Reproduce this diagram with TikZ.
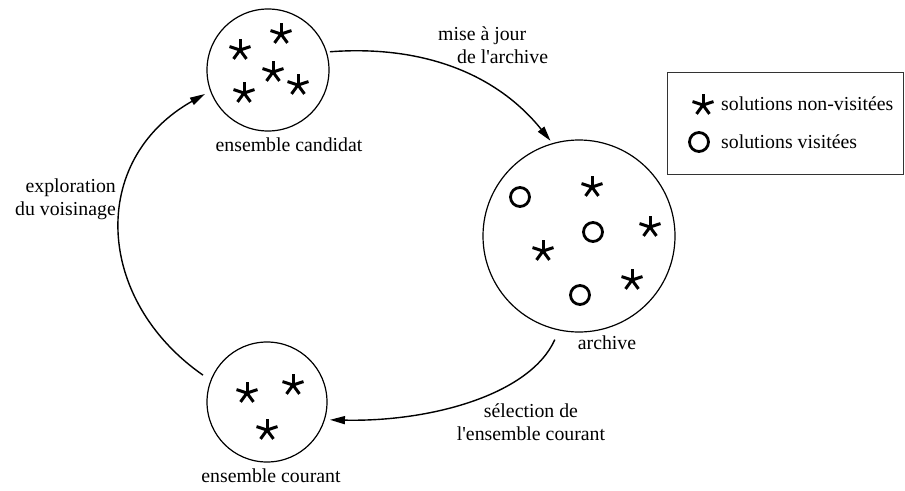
\documentclass[tikz,border=0pt]{standalone}
\usepackage{fontspec}
\setmainfont{Liberation Serif}
\usetikzlibrary{arrows.meta}
\begin{document}
\begin{tikzpicture}[x=1pt,y=-1pt,
  setc/.style={circle,draw,line width=1.2pt,inner sep=0pt},
  lbl/.style={font=\fontsize{19.8}{23}\selectfont, inner sep=0pt},
  conn/.style={line width=1.4pt,-{Triangle[length=15pt,width=8pt]}},
  ast/.pic={\foreach \a in {90,162,234,306,18}\draw[line width=3pt] (0,0) -- (\a:11pt);},
  vis/.style={circle,draw,line width=2.8pt,minimum size=19pt,inner sep=0pt}
]
\path[use as bounding box] (0,0) rectangle (905,490);

% sets
\node[setc,minimum size=122pt] (cand) at (268,70) {};
\node[setc,minimum size=192pt] (arch) at (579,236) {};
\node[setc,minimum size=120pt] (cour) at (267,402) {};

% candidate set contents
\pic at (240,50) {ast};
\pic at (281,34) {ast};
\pic at (273,72) {ast};
\pic at (298,85) {ast};
\pic at (244,93) {ast};

% archive contents
\node[vis] (v1) at (520,197) {};
\node[vis] (v2) at (593,232) {};
\node[vis] (v3) at (580,295) {};
\pic at (592,187) {ast};
\pic at (650,227) {ast};
\pic at (543,251) {ast};
\pic at (632,280) {ast};

% current set contents
\pic at (247,393) {ast};
\pic at (293,385) {ast};
\pic at (267,430) {ast};

% labels
\node[lbl] (lcand) at (289,145) {ensemble candidat};
\node[lbl] (lcour) at (271,476) {ensemble courant};
\node[lbl] (larch) at (607,343) {archive};
\node[lbl,align=right,anchor=east] (lexp) at (116,199) {exploration\\du voisinage};
\node[lbl,align=left,anchor=west] (lmaj) at (438,45) {mise à jour\\\hspace*{19pt}de l\textquotesingle archive};
\node[lbl,align=center] (lsel) at (531,422) {sélection de\\l\textquotesingle ensemble courant};

% connectors
\draw[conn,shorten <=3pt,shorten >=3pt] (cand.17) .. controls (420,45) and (495,72) .. (arch.106);
\draw[conn,shorten <=10pt,shorten >=5pt] (arch.258.6) .. controls (530,395) and (430,422) .. (cour.-17.6);
\draw[conn,shorten <=9pt,shorten >=6pt] (cour.159) .. controls (95,300) and (88,160) .. (cand.200);

% legend
\node[draw=black!80,line width=0.9pt,minimum width=236pt,minimum height=102pt,anchor=north west,inner sep=0pt] (legbox) at (667,72) {};
\pic at (703,105) {ast};
\node[vis] (legvis) at (699,142) {};
\node[lbl,anchor=west] (legt1) at (721,104) {solutions non-visitées};
\node[lbl,anchor=west] (legt2) at (721,142) {solutions visitées};
\end{tikzpicture}
\end{document}
